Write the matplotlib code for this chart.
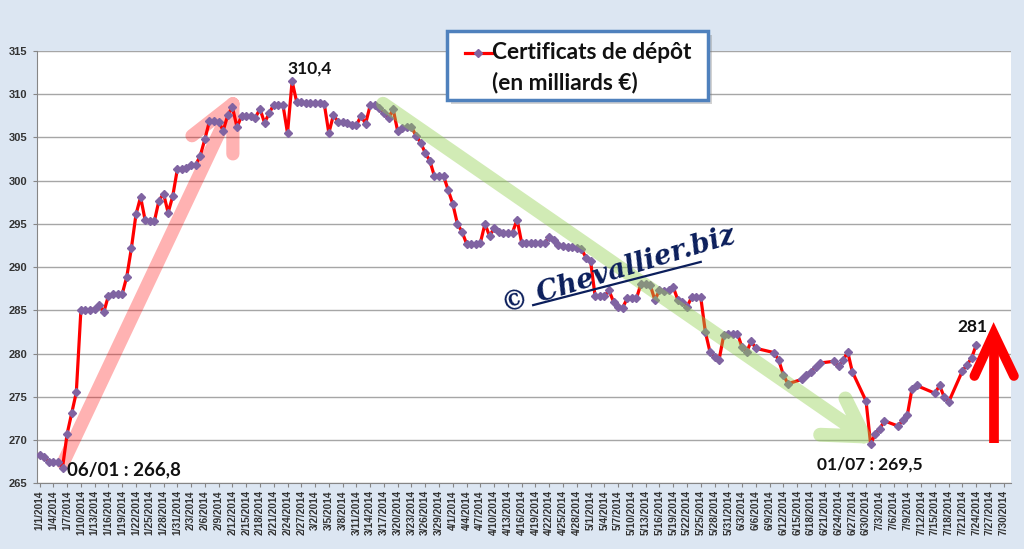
import datetime as dt

import matplotlib
matplotlib.use("Agg")
import matplotlib.pyplot as plt
import matplotlib.ticker as mticker
from matplotlib.patches import Rectangle
from matplotlib.lines import Line2D

# ── Data: day offset from 1 Jan 2014 and outstanding amount (bn EUR) ─────────
START = dt.date(2014, 1, 1)

days = [
    0, 1, 2, 3, 4, 5, 6, 7, 8, 9, 10, 11, 12, 13, 14, 15, 16, 17, 18, 19,
    20, 21, 22, 23, 24, 25, 26, 27, 28, 29, 30, 31, 32, 33, 34, 35, 36, 37, 38, 39,
    40, 41, 42, 43, 44, 45, 46, 47, 48, 49, 50, 51, 52, 53, 54, 55, 56, 57, 58, 59,
    60, 61, 62, 63, 64, 65, 66, 67, 68, 69, 70, 71, 72, 73, 74, 75, 76, 77, 78, 79,
    80, 81, 82, 83, 84, 85, 86, 87, 88, 89, 90, 91, 92, 93, 94, 95, 96, 97, 98, 99,
    100, 101, 102, 103, 104, 105, 106, 107, 108, 109, 110, 111, 112, 113, 114, 115, 116, 117, 118, 119,
    120, 121, 122, 123, 124, 125, 126, 127, 128, 129, 130, 131, 132, 133, 134, 135, 136, 137, 138, 139,
    140, 141, 142, 143, 144, 145, 146, 147, 148, 149, 150, 151, 152, 153, 154, 155, 156,
    160, 161, 162, 163, 166, 167, 168, 169, 170, 173, 174, 175, 176, 177,
    180, 181, 182, 183, 184, 187, 188, 189, 190, 191, 195, 196, 197, 198,
    201, 202, 203, 204,
]

values = [
    268.3, 268.0, 267.5, 267.5, 267.4, 266.8, 270.7, 273.1, 275.5, 285.0,
    285.0, 285.0, 285.2, 285.6, 284.8, 286.7, 286.9, 286.9, 286.9, 288.9,
    292.2, 296.1, 298.1, 295.4, 295.3, 295.3, 297.7, 298.5, 296.3, 298.2,
    301.3, 301.4, 301.5, 301.8, 301.8, 302.9, 304.8, 306.9, 306.9, 306.8,
    305.8, 307.6, 308.5, 306.2, 307.5, 307.5, 307.5, 307.3, 308.3, 306.7,
    307.8, 308.8, 308.8, 308.8, 305.5, 311.5, 309.1, 309.1, 309.0, 309.0,
    309.0, 309.0, 308.9, 305.5, 307.6, 306.8, 306.8, 306.7, 306.5, 306.4,
    307.5, 306.6, 308.7, 308.7, 308.4, 307.8, 307.2, 308.3, 305.7, 306.1,
    306.2, 306.2, 305.2, 304.4, 303.2, 302.3, 300.5, 300.5, 300.5, 298.9,
    297.3, 295.0, 294.1, 292.7, 292.7, 292.7, 292.8, 295.0, 293.6, 294.5,
    294.1, 294.0, 294.0, 294.0, 295.5, 292.8, 292.8, 292.8, 292.8, 292.8,
    292.8, 293.5, 293.1, 292.6, 292.4, 292.3, 292.3, 292.2, 292.1, 291.1,
    290.7, 286.6, 286.6, 286.6, 287.3, 286.0, 285.4, 285.3, 286.4, 286.4,
    286.4, 288.1, 288.0, 287.9, 286.2, 287.3, 287.2, 287.3, 287.7, 286.2,
    286.0, 285.4, 286.5, 286.5, 286.5, 282.5, 280.2, 279.6, 279.3, 282.1,
    282.2, 282.2, 282.3, 280.7, 280.2, 281.4, 280.6,
    280.1, 279.2, 277.5, 276.5, 277.0, 277.5, 277.9, 278.4, 278.9, 279.1,
    278.5, 279.2, 280.2, 277.9,
    274.5, 269.5, 270.7, 271.3, 272.2, 271.6, 272.3, 272.9, 275.9, 276.3,
    275.4, 276.3, 275.0, 274.4,
    278.0, 278.7, 279.5, 281.0,
]

SERIES_LABEL = "Certificats de dépôt"
SERIES_UNIT = "(en milliards €)"
Y_TICKS = [265, 270, 275, 280, 285, 290, 295, 300, 305, 310, 315]
LAST_DAY = 210   # 7/30/2014
TICK_STEP = 3

# ── Style ─────────────────────────────────────────────────────────────────────
BG = "#DCE6F2"
LINE_RED = "#FF0000"
MARKER_PURPLE = "#8064A2"
GRID = "#A6A6A6"
FONT = "Lato"
TICK_FONT = "Liberation Sans"


def _date_label(x, _):
    d = START + dt.timedelta(days=int(round(x)))
    return f"{d.month}/{d.day}/{d.year}"


def main() -> None:
    fig = plt.figure(figsize=(10.24, 5.49), dpi=100)
    fig.patch.set_facecolor(BG)
    ax = fig.add_axes([0.0364, 0.120, 0.9506, 0.787])
    ax.set_facecolor("white")

    ax.set_xlim(-0.5, LAST_DAY + 1.5)
    ax.set_ylim(Y_TICKS[0], Y_TICKS[-1])
    ax.set_yticks(Y_TICKS)
    ax.set_xticks(list(range(0, LAST_DAY + 1, TICK_STEP)))
    ax.xaxis.set_major_formatter(mticker.FuncFormatter(_date_label))
    ax.yaxis.grid(True, color=GRID, linewidth=1.0)
    ax.set_axisbelow(True)
    for side in ("top", "right"):
        ax.spines[side].set_visible(False)
    for side in ("left", "bottom"):
        ax.spines[side].set_color("#868686")
    ax.tick_params(axis="x", direction="out", length=3, color="#868686",
                   labelrotation=90, labelsize=7.3, pad=2)
    ax.tick_params(axis="y", direction="out", length=3, color="#868686",
                   labelsize=8, pad=4)
    for lab in ax.get_xticklabels() + ax.get_yticklabels():
        lab.set_fontfamily(TICK_FONT)
        lab.set_fontweight("bold")
        lab.set_color("#333333")

    # pink "rise" arrow (behind the series)
    ax.plot([5.1, 42.1, float("nan"), 33.2, 42.1, 42.1],
            [267.3, 308.9, float("nan"), 305.2, 308.9, 303.1],
            color="#FF0000", alpha=0.30, linewidth=9.5, solid_capstyle="round",
            solid_joinstyle="round", zorder=1.5)

    # the series
    ax.plot(days, values, color=LINE_RED, linewidth=2.3, zorder=3,
            marker="D", markersize=3.6, markerfacecolor=MARKER_PURPLE,
            markeredgecolor=MARKER_PURPLE)

    # green "fall" arrow (over the series, translucent)
    ax.plot([74.8, 179.6, float("nan"), 170.0, 179.6, 175.5],
            [308.9, 270.4, float("nan"), 270.6, 270.4, 274.8],
            color="#92D050", alpha=0.42, linewidth=10, solid_capstyle="round",
            solid_joinstyle="round", zorder=4)

    # red rebound arrow at the right edge
    ax.plot([207.8, 207.8], [269.6, 282.0], color="#FF0000", linewidth=7,
            solid_capstyle="butt", zorder=5, clip_on=False)
    ax.plot([203.6, 207.8, 212.2], [277.4, 282.3, 277.4], color="#FF0000",
            linewidth=7, solid_capstyle="round", solid_joinstyle="miter",
            zorder=5, clip_on=False)

    # value annotations
    txt = dict(family=FONT, fontweight="bold", color="#111111",
               ha="center", va="center", clip_on=False, zorder=6)
    ax.text(58.9, 313.0, "310,4", fontsize=12.5, **txt)
    ax.text(18.4, 266.6, "06/01 : 266,8", fontsize=13.5, **txt)
    ax.text(180.9, 267.1, "01/07 : 269,5", fontsize=12.5, **txt)
    ax.text(203.2, 283.1, "281", fontsize=12.5, **txt)

    # watermark
    ax.text(126.0, 289.6, "© Chevallier.biz", family="DejaVu Serif",
            style="italic", fontweight="bold", fontsize=19.5, color="#0B1E5B",
            rotation=17, ha="center", va="center", zorder=6)
    ax.plot([107.5, 144.0], [285.6, 290.6], color="#0B1E5B", linewidth=1.6,
            zorder=6)

    # legend box drawn in figure coordinates
    x0, y0, w, h = 447 / 1024, 1 - 100 / 549, 261 / 1024, 69 / 549
    fig.patches.append(Rectangle((x0 + 0.004, y0 - 0.008), w, h,
                                 transform=fig.transFigure, facecolor="#7F7F7F",
                                 alpha=0.35, edgecolor="none", zorder=9))
    fig.patches.append(Rectangle((x0, y0), w, h, transform=fig.transFigure,
                                 facecolor="white", edgecolor="#4F81BD",
                                 linewidth=2.5, zorder=10))
    ly = 1 - 52.7 / 549
    fig.lines.append(Line2D([465 / 1024, 492 / 1024], [ly, ly],
                            transform=fig.transFigure, color=LINE_RED,
                            linewidth=2.3, zorder=11))
    fig.lines.append(Line2D([478 / 1024], [ly], transform=fig.transFigure,
                            marker="D", markersize=3.6, color=MARKER_PURPLE,
                            zorder=12))
    fig.text(492 / 1024, ly, SERIES_LABEL, family=FONT, fontweight="bold",
             fontsize=16.3, color="#111111", ha="left", va="center", zorder=12)
    fig.text(492 / 1024, 1 - 82.7 / 549, SERIES_UNIT, family=FONT,
             fontweight="bold", fontsize=16.3, color="#111111", ha="left",
             va="center", zorder=12)

    fig.savefig("out.png", dpi=100, facecolor=fig.get_facecolor())


if __name__ == "__main__":
    main()
